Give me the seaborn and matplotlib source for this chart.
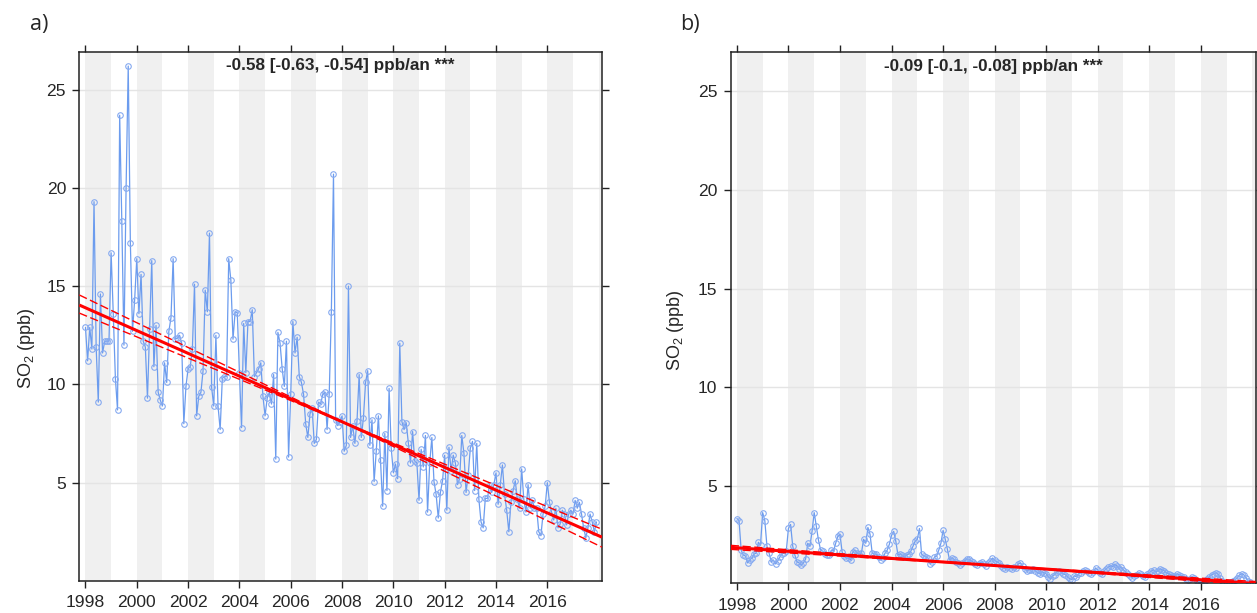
import numpy as np
import matplotlib
matplotlib.use("Agg")
import matplotlib.pyplot as plt
import seaborn as sns

# Monthly mean SO2 (ppb), Jan 1998 .. Dec 2017
years = list(range(1998, 2018))

so2_a = [
    # 1998
    12.9, 11.2, 12.9, 11.8, 19.3, 11.9, 9.1, 14.6, 11.6, 12.2, 12.2, 12.2,
    # 1999
    16.7, 13.6, 10.3, 8.7, 23.7, 18.3, 12.0, 20.0, 26.2, 17.2, 12.7, 14.3,
    # 2000
    16.4, 13.6, 15.6, 12.2, 11.9, 9.3, 12.8, 16.3, 10.9, 13.0, 9.6, 9.2,
    # 2001
    8.9, 11.1, 10.1, 12.7, 13.4, 16.4, 12.3, 12.35, 12.5, 12.1, 8.0, 9.9,
    # 2002
    10.8, 10.9, 11.8, 15.1, 8.4, 9.4, 9.6, 10.7, 14.8, 13.7, 17.7, 9.85,
    # 2003
    8.9, 12.5, 8.9, 7.7, 10.3, 10.4, 10.4, 16.4, 15.3, 12.3, 13.7, 13.65,
    # 2004
    10.6, 7.8, 13.1, 10.6, 13.2, 13.2, 13.8, 10.4, 10.6, 10.8, 11.1, 9.4,
    # 2005
    8.4, 9.3, 9.6, 9.0, 10.5, 6.2, 12.65, 12.1, 10.8, 9.9, 12.2, 6.3,
    # 2006
    9.5, 13.2, 11.6, 12.4, 10.4, 10.1, 9.5, 8.0, 7.3, 8.5, 8.8, 7.0,
    # 2007
    7.2, 9.1, 9.0, 9.5, 9.6, 7.7, 9.5, 13.7, 20.7, 8.2, 7.9, 8.1,
    # 2008
    8.4, 6.6, 6.9, 15.0, 7.3, 7.9, 7.0, 8.15, 10.5, 7.3, 8.3, 10.1,
    # 2009
    10.7, 6.9, 8.2, 5.05, 6.6, 8.4, 6.15, 3.8, 7.5, 4.6, 9.8, 6.75,
    # 2010
    5.5, 5.95, 5.2, 12.1, 8.1, 7.7, 8.05, 7.0, 6.0, 7.6, 6.1, 6.0,
    # 2011
    4.1, 6.7, 5.8, 7.4, 3.5, 6.0, 7.3, 5.05, 4.4, 3.2, 4.5, 5.1,
    # 2012
    6.4, 3.6, 6.8, 5.6, 6.4, 6.0, 4.9, 5.2, 7.4, 6.5, 4.5, 5.4,
    # 2013
    6.75, 7.1, 4.6, 7.0, 4.15, 3.0, 2.7, 4.2, 4.2, 4.9, 4.5, 4.9,
    # 2014
    5.5, 3.9, 4.9, 5.9, 4.4, 3.6, 2.5, 4.0, 4.6, 5.1, 4.15, 3.7,
    # 2015
    5.7, 4.15, 3.5, 4.9, 3.7, 4.1, 3.7, 3.7, 2.5, 2.3, 3.4, 3.8,
    # 2016
    5.0, 4.0, 3.5, 3.1, 3.7, 2.7, 2.9, 3.6, 3.4, 2.85, 3.4, 3.6,
    # 2017
    3.4, 4.1, 3.7, 4.0, 3.4, 2.7, 2.2, 2.7, 3.4, 3.0, 2.5, 3.0,
]

so2_b = [
    # 1998
    3.35, 3.25, 1.75, 1.5, 1.45, 1.1, 1.25, 1.35, 1.55, 1.6, 2.15, 2.0,
    # 1999
    3.65, 3.25, 1.95, 1.6, 1.15, 1.25, 1.05, 1.2, 1.4, 1.55, 1.6, 1.7,
    # 2000
    2.85, 3.05, 1.95, 1.5, 1.15, 1.1, 1.0, 1.1, 1.3, 2.1, 1.95, 2.7,
    # 2001
    3.65, 2.95, 2.25, 1.75, 1.7, 1.55, 1.5, 1.5, 1.75, 1.7, 2.1, 2.45,
    # 2002
    2.55, 1.65, 1.45, 1.35, 1.35, 1.25, 1.65, 1.75, 1.6, 1.55, 1.6, 2.3,
    # 2003
    2.1, 2.9, 2.55, 1.6, 1.55, 1.55, 1.4, 1.25, 1.35, 1.6, 1.75, 2.05,
    # 2004
    2.5, 2.7, 2.2, 1.5, 1.55, 1.5, 1.4, 1.5, 1.55, 1.7, 1.95, 2.2,
    # 2005
    2.3, 2.85, 1.55, 1.45, 1.4, 1.35, 1.05, 1.15, 1.4, 1.45, 1.75, 2.1,
    # 2006
    2.75, 2.3, 1.8, 1.25, 1.35, 1.3, 1.15, 1.1, 1.0, 1.1, 1.2, 1.3,
    # 2007
    1.3, 1.2, 1.15, 1.05, 1.0, 1.1, 1.15, 1.05, 0.95, 1.1, 1.2, 1.35,
    # 2008
    1.25, 1.15, 1.1, 0.95, 0.85, 0.8, 0.9, 0.85, 0.8, 0.9, 0.85, 1.05,
    # 2009
    1.1, 0.95, 0.8, 0.7, 0.75, 0.75, 0.8, 0.7, 0.6, 0.55, 0.65, 0.6,
    # 2010
    0.55, 0.4, 0.3, 0.45, 0.5, 0.65, 0.7, 0.65, 0.55, 0.5, 0.4, 0.3,
    # 2011
    0.25, 0.45, 0.4, 0.55, 0.6, 0.7, 0.75, 0.7, 0.6, 0.55, 0.65, 0.85,
    # 2012
    0.75, 0.6, 0.55, 0.7, 0.8, 0.9, 0.95, 0.9, 1.05, 0.95, 0.8, 0.9,
    # 2013
    0.75, 0.65, 0.55, 0.45, 0.35, 0.45, 0.5, 0.6, 0.55, 0.45, 0.4, 0.55,
    # 2014
    0.6, 0.7, 0.75, 0.65, 0.7, 0.8, 0.75, 0.7, 0.6, 0.55, 0.5, 0.45,
    # 2015
    0.45, 0.55, 0.5, 0.45, 0.4, 0.3, 0.25, 0.3, 0.4, 0.35, 0.2, 0.15,
    # 2016
    0.1, 0.15, 0.2, 0.3, 0.4, 0.5, 0.55, 0.6, 0.55, 0.35, 0.2, 0.1,
    # 2017
    0.05, 0.1, 0.15, 0.2, 0.25, 0.35, 0.5, 0.55, 0.5, 0.35, 0.2, 0.15,
]

# Theil-Sen trend: slope and 95% interval (ppb/an), line anchored at 2008
slope_a = [-0.58, -0.63, -0.54]
slope_b = [-0.09, -0.10, -0.08]
anchor_a = 8.1
anchor_b = 0.97
anchor_year = 2008.0

labels_a = "-0.58 [-0.63, -0.54] ppb/an ***"
labels_b = "-0.09 [-0.1, -0.08] ppb/an ***"

year_ticks = list(range(1998, 2018, 2))
so2_ticks = [5, 10, 15, 20, 25]

sns.set_style("white")
plt.rcParams["font.family"] = ["Liberation Sans", "DejaVu Sans"]
plt.rcParams["mathtext.fontset"] = "custom"
plt.rcParams["mathtext.rm"] = "Liberation Sans"
plt.rcParams["mathtext.it"] = "Liberation Sans:italic"

t = np.array([y + m / 12.0 for y in years for m in range(12)])

fig = plt.figure(figsize=(12.57, 6.13), dpi=100)
ax_a = fig.add_axes([0.06309, 0.0530, 0.4158, 0.8626])
ax_b = fig.add_axes([0.5813, 0.04845, 0.41766, 0.8662])

blue_line = "#6C9CEE"
blue_edge = "#86AAF0"


def draw_panel(ax, values, slopes, anchor, label, ylim):
    xlim = (1997.76, 2018.13)
    # alternating year shading
    for y0 in range(1998, 2020, 2):
        ax.axvspan(y0, y0 + 1, color="#F0F0F0", lw=0, zorder=0)
    for yv in so2_ticks:
        ax.axhline(yv, color="#E4E4E4", lw=1.0, zorder=0.5)

    sns.lineplot(x=t, y=values, ax=ax, color=blue_line, lw=0.9,
                 marker="o", markersize=4.0, markerfacecolor="none",
                 markeredgecolor=blue_edge, markeredgewidth=0.8, zorder=2)

    xs = np.array(xlim)
    ax.plot(xs, anchor + slopes[0] * (xs - anchor_year), color="red",
            lw=2.2, zorder=3, solid_capstyle="butt")
    for s in slopes[1:]:
        ax.plot(xs, anchor + s * (xs - anchor_year), color="red", lw=1.0,
                ls=(0, (6, 2.5)), zorder=3)

    ax.set_xlim(*xlim)
    ax.set_ylim(*ylim)
    ax.set_xticks(year_ticks)
    ax.set_xticklabels([str(y) for y in year_ticks])
    ax.set_yticks(so2_ticks)
    ax.set_xlabel("")
    ax.set_ylabel("")
    ax.tick_params(axis="both", which="both", direction="out", length=5,
                   width=1, color="#222222", labelsize=12.6,
                   top=True, right=True, bottom=True, left=True,
                   labeltop=False, labelright=False, pad=4.5)
    ax.tick_params(axis="x", pad=5.5)
    for sp in ax.spines.values():
        sp.set_visible(True)
        sp.set_color("#222222")
        sp.set_linewidth(1.1)
    ax.text(0.5, 0.9654, label, transform=ax.transAxes, ha="center",
            va="baseline", fontsize=12.3, fontweight="bold", zorder=5)


draw_panel(ax_a, so2_a, slope_a, anchor_a, labels_a, (0.02, 26.93))
draw_panel(ax_b, so2_b, slope_b, anchor_b, labels_b, (0.07, 26.97))

ylabel = r"SO$_2$ (ppb)"
fig.text(27 / 1257, 1 - 348 / 613, ylabel, rotation=90, ha="center",
         va="center", fontsize=13)
fig.text(676 / 1257, 1 - 330 / 613, ylabel, rotation=90, ha="center",
         va="center", fontsize=13)

fig.text(30 / 1257, 1 - 30 / 613, "a)", fontsize=15.5,
         family=["Open Sans", "DejaVu Sans"], va="baseline", ha="left")
fig.text(680 / 1257, 1 - 30 / 613, "b)", fontsize=15.5,
         family=["Open Sans", "DejaVu Sans"], va="baseline", ha="left")

fig.savefig("out.png", dpi=100)
